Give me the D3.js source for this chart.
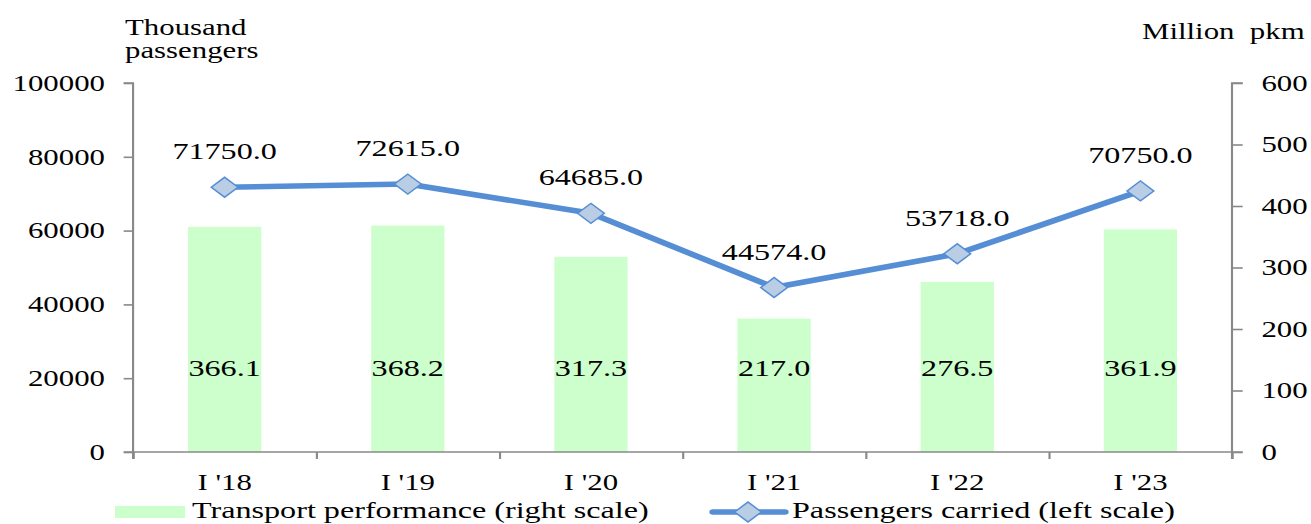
<!DOCTYPE html>
<html>
<head>
<meta charset="utf-8">
<script src="https://cdn.jsdelivr.net/npm/d3@7"></script>
<style>
  body { margin: 0; background: #fff; }
  text { font-family: 'Liberation Serif', 'Times New Roman', serif; fill: #000; }
</style>
</head>
<body>
<div id="chart"></div>
<script>
// data
var categories = ["I '18", "I '19", "I '20", "I '21", "I '22", "I '23"]
var passengers = [71750.0, 72615.0, 64685.0, 44574.0, 53718.0, 70750.0]
var performance = [366.1, 368.2, 317.3, 217.0, 276.5, 361.9]
var leftTicks = [0, 20000, 40000, 60000, 80000, 100000]
var rightTicks = [0, 100, 200, 300, 400, 500, 600]

// the reference is stretched horizontally, so draw in a narrower box and stretch it
var stretch = 1.34
var W = 1311 / stretch
var H = 524

var margin = { top: 83, left: 99.3, right: W - 919.4, bottom: H - 452 }
var width = W - margin.left - margin.right
var height = H - margin.top - margin.bottom

var root = d3
  .select('#chart')
  .append('svg')
  .attr('width', 1311)
  .attr('height', 524)
  .attr('viewBox', '0 0 ' + W + ' ' + H)
  .attr('preserveAspectRatio', 'none')

var svg = root
  .append('g')
  .attr('transform', 'translate(' + margin.left + ',' + margin.top + ')')

var xBand = d3
  .scaleBand()
  .domain(categories)
  .range([0, width])
  .paddingInner(0.6)
  .paddingOuter(0.3)

var xEdge = d3.scaleLinear().domain([0, categories.length]).range([0, width])

var yLeft = d3.scaleLinear().domain([0, 100000]).range([height, 0])
var yRight = d3.scaleLinear().domain([0, 600]).range([height, 0])

var axisColor = '#898989'

// bars
svg
  .selectAll('.bar')
  .data(performance)
  .enter()
  .append('rect')
  .attr('class', 'bar')
  .attr('x', (d, i) => xBand(categories[i]))
  .attr('width', xBand.bandwidth())
  .attr('y', d => yRight(d))
  .attr('height', d => height - yRight(d))
  .attr('fill', '#ccffcc')

// bar labels
svg
  .selectAll('.bar-label')
  .data(performance)
  .enter()
  .append('text')
  .attr('class', 'bar-label')
  .attr('x', (d, i) => xBand(categories[i]) + xBand.bandwidth() / 2)
  .attr('y', 376 - margin.top)
  .attr('text-anchor', 'middle')
  .attr('font-size', 24)
  .text(d => d.toFixed(1))

// axes
var leftAxis = d3
  .axisLeft(yLeft)
  .tickValues(leftTicks)
  .tickSize(7)
  .tickPadding(14)
  .tickFormat(d3.format('d'))
svg.append('g').attr('class', 'axis left').call(leftAxis)

var rightAxis = d3
  .axisRight(yRight)
  .tickValues(rightTicks)
  .tickSize(8)
  .tickPadding(14)
  .tickFormat(d3.format('d'))
svg
  .append('g')
  .attr('class', 'axis right')
  .attr('transform', 'translate(' + width + ',0)')
  .call(rightAxis)

var bottomAxis = d3
  .axisBottom(xEdge)
  .tickValues(d3.range(categories.length + 1))
  .tickSize(7)
  .tickFormat('')
svg
  .append('g')
  .attr('class', 'axis bottom')
  .attr('transform', 'translate(0,' + height + ')')
  .call(bottomAxis)

var catAxis = d3.axisBottom(xBand).tickSize(0).tickPadding(22)
svg
  .append('g')
  .attr('class', 'axis cats')
  .attr('transform', 'translate(0,' + height + ')')
  .call(catAxis)
svg.selectAll('.cats path').remove()

svg.selectAll('.axis path, .axis line')
  .attr('stroke', axisColor)
  .attr('stroke-width', 1.6)
svg.selectAll('.axis text')
  .attr('font-size', 23)
  .attr('font-family', "'Liberation Serif', 'Times New Roman', serif")
  .attr('fill', '#000')
svg.selectAll('.left path').attr('d', 'M-7,0H0V' + height + 'H-7')
svg.selectAll('.right path').attr('d', 'M8,0H0V' + height + 'H8')
svg.selectAll('.bottom path').attr('d', 'M0,' + 7 + 'V0H' + width + 'V7')

// line
var line = d3
  .line()
  .x((d, i) => xBand(categories[i]) + xBand.bandwidth() / 2)
  .y(d => yLeft(d))

svg
  .append('path')
  .datum(passengers)
  .attr('d', line)
  .attr('fill', 'none')
  .attr('stroke', '#558ed5')
  .attr('stroke-width', 5.5)
  .attr('stroke-linejoin', 'round')

var diamond = d3.symbol().type(d3.symbolSquare).size(200)

svg
  .selectAll('.marker')
  .data(passengers)
  .enter()
  .append('path')
  .attr('class', 'marker')
  .attr('d', diamond)
  .attr('transform', (d, i) =>
    'translate(' + (xBand(categories[i]) + xBand.bandwidth() / 2) + ',' + yLeft(d) + ') rotate(45)')
  .attr('fill', '#b9cde5')
  .attr('stroke', '#558ed5')
  .attr('stroke-width', 1.3)

svg
  .selectAll('.line-label')
  .data(passengers)
  .enter()
  .append('text')
  .attr('class', 'line-label')
  .attr('x', (d, i) => xBand(categories[i]) + xBand.bandwidth() / 2)
  .attr('y', d => yLeft(d) - 28)
  .attr('text-anchor', 'middle')
  .attr('font-size', 24)
  .text(d => d.toFixed(1))

// axis titles
root
  .append('text')
  .attr('x', 125 / stretch)
  .attr('y', 35)
  .attr('font-size', 23)
  .text('Thousand')
root
  .append('text')
  .attr('x', 125 / stretch)
  .attr('y', 58)
  .attr('font-size', 23)
  .text('passengers')
root
  .append('text')
  .attr('x', 1142 / stretch)
  .attr('y', 39)
  .attr('font-size', 23)
  .style('white-space', 'pre')
  .text('Million  pkm')

// legend
var legend = root.append('g')
legend
  .append('rect')
  .attr('x', 115 / stretch)
  .attr('y', 506)
  .attr('width', 70 / stretch)
  .attr('height', 12)
  .attr('fill', '#ccffcc')
legend
  .append('text')
  .attr('x', 192 / stretch)
  .attr('y', 518)
  .attr('font-size', 24)
  .text('Transport performance (right scale)')
legend
  .append('line')
  .attr('x1', 713 / stretch)
  .attr('x2', 785 / stretch)
  .attr('y1', 512)
  .attr('y2', 512)
  .attr('stroke', '#558ed5')
  .attr('stroke-width', 5.5)
  .attr('stroke-linecap', 'round')
legend
  .append('path')
  .attr('d', diamond)
  .attr('transform', 'translate(' + 748 / stretch + ',512) rotate(45)')
  .attr('fill', '#b9cde5')
  .attr('stroke', '#558ed5')
  .attr('stroke-width', 1.3)
legend
  .append('text')
  .attr('x', 792 / stretch)
  .attr('y', 518)
  .attr('font-size', 24)
  .text('Passengers carried (left scale)')
</script>
</body>
</html>
